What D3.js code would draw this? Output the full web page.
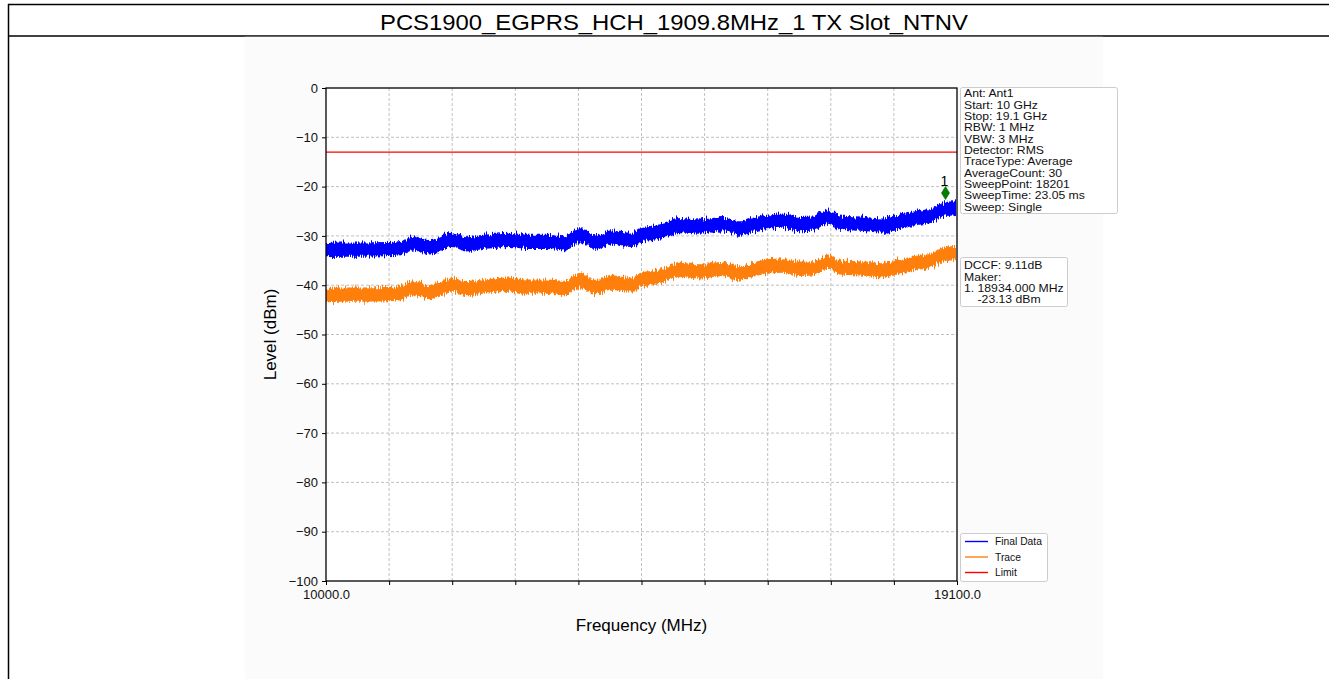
<!DOCTYPE html>
<html><head><meta charset="utf-8">
<script src="https://cdn.jsdelivr.net/npm/d3@7"></script>
<style>body{margin:0;background:#fff;}svg{display:block;font-family:"Liberation Sans",Arial,sans-serif;}</style>
</head><body><svg id="c" width="1329" height="679"></svg>
<script>
const titleText = "PCS1900_EGPRS_HCH_1909.8MHz_1 TX Slot_NTNV";
const freqs = [10000,10200,10490,10880,11070,11250,11500,11820,12030,12260,12450,12650,12900,13200,13450,13660,13900,14100,14240,14400,14530,14820,15100,15390,15730,15970,16220,16590,16840,17020,17240,17410,17800,18030,18280,18520,18750,18900,19070,19100];
const finalData = [-32.9,-32.8,-32.8,-32.7,-32.5,-31.5,-32.3,-30.8,-31.7,-31.2,-31.0,-30.8,-31.2,-31.2,-31.5,-29.9,-31.3,-30.3,-30.6,-30.8,-29.9,-29.1,-27.8,-28.1,-27.6,-28.5,-27.5,-26.9,-27.6,-27.5,-26.1,-27.3,-27.6,-27.9,-27.1,-26.4,-25.8,-24.7,-24.4,-24.6];
const traceData = [-42.0,-41.9,-41.9,-41.8,-41.6,-40.6,-41.4,-39.9,-40.8,-40.3,-40.1,-39.9,-40.3,-40.3,-40.6,-39.0,-40.4,-39.4,-39.7,-39.9,-39.0,-38.2,-36.9,-37.2,-36.7,-37.6,-36.6,-36.0,-36.7,-36.6,-35.2,-36.4,-36.7,-37.0,-36.2,-35.5,-34.9,-33.8,-33.5,-33.7];
const noiseHalf = 1.45; // dB half-thickness of the noisy trace band
const limitLevel = -13;
const markerFreq = 18934.0, markerLevel = -23.13;
const yTicks = [0,-10,-20,-30,-40,-50,-60,-70,-80,-90,-100];
const xTicks = [10000,10910,11820,12730,13640,14550,15460,16370,17280,18190,19100];
const xTickLabels = ["10000.0","","","","","","","","","","19100.0"];
const infoLines = ["Ant: Ant1","Start: 10 GHz","Stop: 19.1 GHz","RBW: 1 MHz","VBW: 3 MHz","Detector: RMS","TraceType: Average","AverageCount: 30","SweepPoint: 18201","SweepTime: 23.05 ms","Sweep: Single"];
const markerLines = ["DCCF: 9.11dB","Maker:","1. 18934.000 MHz","    -23.13 dBm"];
const legendNames = ["Final Data","Trace","Limit"];
const legendColors = ["#0000ff","#ff7f0e","#ff0000"];

const svg = d3.select("#c");
const defs = svg.append("defs");
const flt = defs.append("filter").attr("id","jag").attr("x","-2%").attr("y","-60%").attr("width","104%").attr("height","220%");
flt.append("feTurbulence").attr("type","fractalNoise").attr("baseFrequency","0.9 0.04").attr("numOctaves",2).attr("seed",3).attr("result","n");
flt.append("feDisplacementMap").attr("in","SourceGraphic").attr("in2","n").attr("scale",9).attr("xChannelSelector","B").attr("yChannelSelector","R");

// page frame
svg.append("line").attr("x1",8).attr("x2",1329).attr("y1",4.5).attr("y2",4.5).attr("stroke","#000").attr("stroke-width",1.5);
svg.append("line").attr("x1",8.5).attr("x2",8.5).attr("y1",4).attr("y2",679).attr("stroke","#000").attr("stroke-width",1.5);
svg.append("line").attr("x1",8).attr("x2",1329).attr("y1",36).attr("y2",36).attr("stroke","#000").attr("stroke-width",1.5);
svg.append("text").attr("x",674).attr("y",29.5).attr("text-anchor","middle").attr("font-size",22).attr("fill","#000")
  .attr("textLength",588).attr("lengthAdjust","spacingAndGlyphs").text(titleText);
svg.append("rect").attr("x",245).attr("y",36.8).attr("width",858).attr("height",643).attr("fill","#fbfbfb");

const L=326,R=957,T=88,B=581;
const x = d3.scaleLinear().domain([10000,19100]).range([L,R]);
const y = d3.scaleLinear().domain([-100,0]).range([B,T]);
svg.append("rect").attr("x",L).attr("y",T).attr("width",R-L).attr("height",B-T).attr("fill","#fff");

// grid
const g = svg.append("g");
g.selectAll(".gy").data(yTicks.filter(d=>d>-100&&d<0)).join("line")
 .attr("x1",L).attr("x2",R).attr("y1",d=>y(d)).attr("y2",d=>y(d))
 .attr("stroke","#b0b0b0").attr("stroke-width",0.8).attr("stroke-dasharray","3,2");
g.selectAll(".gx").data(xTicks.slice(1,-1)).join("line")
 .attr("x1",d=>x(d)).attr("x2",d=>x(d)).attr("y1",T).attr("y2",B)
 .attr("stroke","#b0b0b0").attr("stroke-width",0.8).attr("stroke-dasharray","3,2");

// traces as noisy bands
defs.append("clipPath").attr("id","pc").append("rect").attr("x",L).attr("y",T).attr("width",R-L).attr("height",B-T);
const pts = (arr)=>arr.map((v,i)=>({f:freqs[i],v}));
const area = d3.area().x(d=>x(d.f)).y0(d=>y(d.v-noiseHalf)).y1(d=>y(d.v+noiseHalf)).curve(d3.curveMonotoneX);
const tg = svg.append("g").attr("clip-path","url(#pc)");
tg.append("path").datum(pts(traceData)).attr("d",area).attr("fill","#ff7f0e").attr("filter","url(#jag)");
tg.append("path").datum(pts(finalData)).attr("d",area).attr("fill","#0000ff").attr("filter","url(#jag)");
// limit
svg.append("line").attr("x1",L).attr("x2",R).attr("y1",y(limitLevel)).attr("y2",y(limitLevel)).attr("stroke","#ff0000").attr("stroke-width",1.2);

// marker
const mx=x(markerFreq), my=y(markerLevel)-9;
svg.append("path").attr("d","M0,-6.5L4,0L0,6.5L-4,0Z").attr("transform",`translate(${mx},${my})`).attr("fill","#008000").attr("stroke","#005a00").attr("stroke-width",0.6);
svg.append("text").attr("x",mx-1).attr("y",my-7).attr("text-anchor","middle").attr("font-size",14).text("1");

// axes
const ya = svg.append("g").attr("transform",`translate(${L},0)`).call(d3.axisLeft(y).tickValues(yTicks).tickSize(4).tickPadding(4).tickFormat(d=>d3.format("")(d).replace("-","\u2212")));
const xa = svg.append("g").attr("transform",`translate(0,${B})`).call(d3.axisBottom(x).tickValues(xTicks).tickSize(4).tickPadding(5).tickFormat((d,i)=>xTickLabels[i]));
[ya,xa].forEach(a=>{a.select(".domain").remove();a.selectAll("text").attr("font-size",13).attr("fill","#111").attr("font-family","Liberation Sans, Arial, sans-serif");a.selectAll("line").attr("stroke","#000");});
svg.append("rect").attr("x",L).attr("y",T).attr("width",R-L).attr("height",B-T).attr("fill","none").attr("stroke","#000").attr("stroke-width",1.3);

svg.append("text").attr("x",(L+R)/2).attr("y",631).attr("text-anchor","middle").attr("font-size",17).text("Frequency (MHz)");
svg.append("text").attr("transform",`translate(276,${(T+B)/2}) rotate(-90)`).attr("text-anchor","middle").attr("font-size",17).text("Level (dBm)");

// info boxes
function box(x0,y0,w,h){svg.append("rect").attr("x",x0).attr("y",y0).attr("width",w).attr("height",h).attr("rx",2).attr("fill","#fff").attr("stroke","#cccccc").attr("stroke-width",1);}
box(960.5,87.5,157,126);
svg.append("g").attr("transform","translate(964,0) scale(1.08,1)").selectAll("text").data(infoLines).join("text")
  .attr("x",0).attr("y",(d,i)=>97.3+i*11.35).attr("font-size",11.3).attr("fill","#111").style("white-space","pre").text(d=>d);
box(960.5,257.5,107,49);
svg.append("g").attr("transform","translate(964,0) scale(1.08,1)").selectAll("text").data(markerLines).join("text")
  .attr("x",0).attr("y",(d,i)=>269.3+i*11.35).attr("font-size",11.3).attr("fill","#111").attr("xml:space","preserve").style("white-space","pre").text(d=>d);
// legend
box(960.5,533.5,87,48);
const lg = svg.append("g").selectAll("g").data(legendNames).join("g").attr("transform",(d,i)=>`translate(965,${541.5+i*15.5})`);
lg.append("line").attr("x1",0).attr("x2",23).attr("stroke",(d,i)=>legendColors[i]).attr("stroke-width",1.4);
lg.append("text").attr("x",30).attr("y",3.5).attr("font-size",10.3).attr("fill","#111").text(d=>d);
</script></body></html>
